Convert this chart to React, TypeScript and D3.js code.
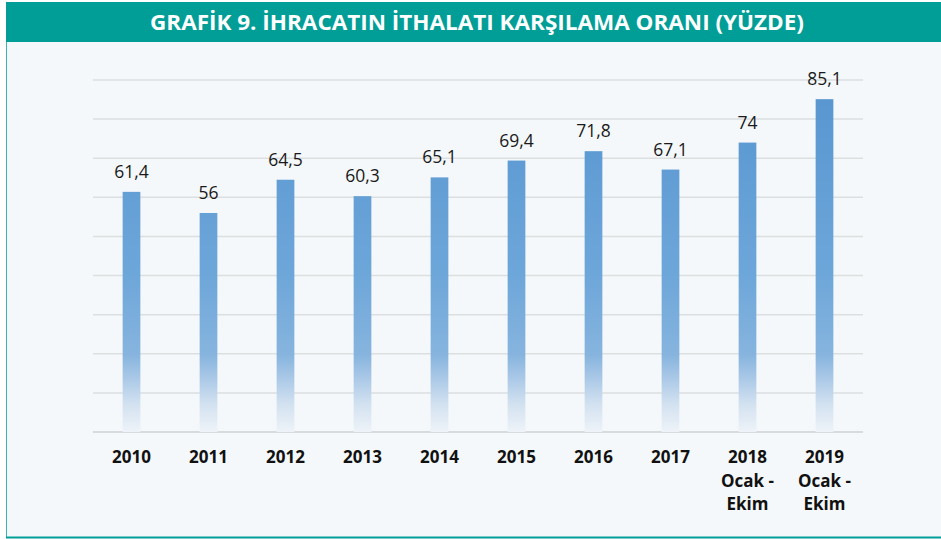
import React, { useRef, useEffect } from 'react';
import * as d3 from 'd3';

const categories: string[][] = [
    ['2010'], ['2011'], ['2012'], ['2013'], ['2014'], ['2015'], ['2016'], ['2017'],
    ['2018', 'Ocak -', 'Ekim'], ['2019', 'Ocak -', 'Ekim'],
];
const values: number[] = [61.4, 56, 64.5, 60.3, 65.1, 69.4, 71.8, 67.1, 74, 85.1];
const valueLabels: string[] = ['61,4', '56', '64,5', '60,3', '65,1', '69,4', '71,8', '67,1', '74', '85,1'];
const yTicks: number[] = [0, 10, 20, 30, 40, 50, 60, 70, 80, 90];
const title = 'GRAFİK 9. İHRACATIN İTHALATI KARŞILAMA ORANI (YÜZDE)';

const App: React.FC = () => {
    const width = 941;
    const height = 539;
    const plotL = 93;
    const plotR = 863;
    const plotT = 80;
    const plotB = 432;
    const teal = '#009e97';

    const svgRef = useRef<SVGSVGElement>(null);

    useEffect(() => {
        if (!svgRef.current) return;
        const svg = d3.select(svgRef.current);
        svg.selectAll('*').remove();

        // background + frame
        svg.append('rect').attr('x', 0).attr('y', 0).attr('width', width).attr('height', height).attr('fill', '#ffffff');
        svg.append('rect')
            .attr('x', 6.5).attr('y', 2.5).attr('width', width - 6).attr('height', 535)
            .attr('fill', '#f4f8fa').attr('stroke', '#3fb5ae').attr('stroke-width', 1);
        svg.append('line')
            .attr('x1', 6).attr('x2', width).attr('y1', 537.5).attr('y2', 537.5)
            .attr('stroke', teal).attr('stroke-width', 2);
        svg.append('rect').attr('x', 6).attr('y', 2).attr('width', width - 6).attr('height', 40).attr('fill', teal);
        svg.append('text')
            .attr('x', 477).attr('y', 29.5)
            .attr('text-anchor', 'middle')
            .attr('font-family', '"Open Sans", sans-serif')
            .attr('font-weight', 700)
            .attr('font-size', 21.5)
            .attr('fill', '#ffffff')
            .attr('textLength', 654)
            .attr('lengthAdjust', 'spacingAndGlyphs')
            .text(title);

        const x = d3.scaleBand<number>()
            .domain(d3.range(values.length))
            .range([plotL, plotR])
            .paddingInner(0.77)
            .paddingOuter(0.385);

        const y = d3.scaleLinear().domain([0, 90]).range([plotB, plotT]);

        // bar gradient, same for every bar (in plot space)
        const defs = svg.append('defs');
        const grad = defs.append('linearGradient')
            .attr('id', 'barGrad')
            .attr('gradientUnits', 'userSpaceOnUse')
            .attr('x1', 0).attr('x2', 0)
            .attr('y1', plotT).attr('y2', plotB);
        [
            [0, '#5795d0'],
            [0.55, '#6da6d9'],
            [0.78, '#86b4de'],
            [0.84, '#a6c6e6'],
            [0.92, '#d2e1f0'],
            [1, '#eef3f8'],
        ].forEach(([o, c]) => grad.append('stop').attr('offset', o as number).attr('stop-color', c as string));

        // gridlines
        svg.append('g').selectAll('line')
            .data(yTicks)
            .enter()
            .append('line')
            .attr('x1', plotL).attr('x2', plotR)
            .attr('y1', d => y(d)).attr('y2', d => y(d))
            .attr('stroke', d => d === 0 ? '#cfd2d4' : '#dcdfe0')
            .attr('stroke-width', 1.5);

        // bars
        svg.append('g').selectAll('rect')
            .data(values)
            .enter()
            .append('rect')
            .attr('x', (d, i) => x(i)!)
            .attr('y', d => y(d))
            .attr('width', x.bandwidth())
            .attr('height', d => plotB - y(d))
            .attr('fill', 'url(#barGrad)');

        // value labels
        svg.append('g').selectAll('text')
            .data(values)
            .enter()
            .append('text')
            .attr('x', (d, i) => x(i)! + x.bandwidth() / 2)
            .attr('y', d => y(d) - 14)
            .attr('text-anchor', 'middle')
            .attr('font-family', '"Open Sans", sans-serif')
            .attr('font-size', 17.5)
            .attr('fill', '#1a1a1a')
            .text((d, i) => valueLabels[i]);

        // category labels
        const cat = svg.append('g').selectAll('text')
            .data(categories)
            .enter()
            .append('text')
            .attr('text-anchor', 'middle')
            .attr('font-family', '"Open Sans", sans-serif')
            .attr('font-weight', 700)
            .attr('font-size', 17)
            .attr('fill', '#111111');
        cat.each(function (lines, i) {
            const t = d3.select(this);
            lines.forEach((ln, j) => {
                t.append('tspan')
                    .attr('x', x(i)! + x.bandwidth() / 2)
                    .attr('y', 463 + j * 23.5)
                    .text(ln);
            });
        });
    }, []);

    return (
        <svg
            ref={svgRef}
            width={width}
            height={height}
            style={{ position: 'absolute', left: 0, top: 0, display: 'block' }}
        />
    );
};

export default App;
